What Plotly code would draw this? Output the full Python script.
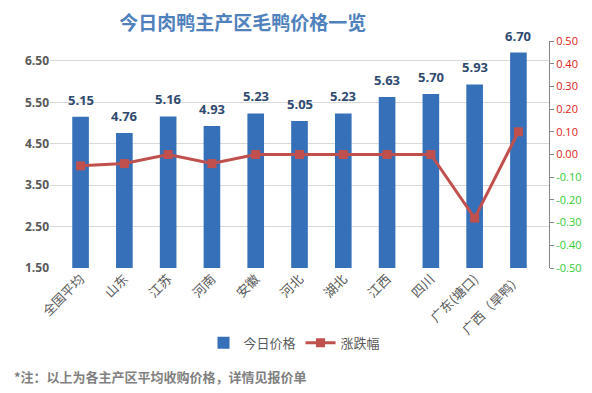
import plotly.graph_objects as go

categories = ["全国平均", "山东", "江苏", "河南", "安徽", "河北", "湖北", "江西", "四川", "广东(塘口)", "广西（旱鸭）"]
prices = [5.15, 4.76, 5.16, 4.93, 5.23, 5.05, 5.23, 5.63, 5.70, 5.93, 6.70]
changes = [-0.05, -0.04, 0.00, -0.04, 0.00, 0.00, 0.00, 0.00, 0.00, -0.28, 0.10]
left_ticks = [1.5, 2.5, 3.5, 4.5, 5.5, 6.5]
right_ticks = [0.5, 0.4, 0.3, 0.2, 0.1, 0.0, -0.1, -0.2, -0.3, -0.4, -0.5]

right_text = []
for v in right_ticks:
    col = "#e02020" if v >= 0 else "#33cc33"
    right_text.append(f'<span style="color:{col}">{v:.2f}</span>')

fig = go.Figure()
fig.add_trace(go.Bar(
    x=categories, y=prices, name="今日价格", width=0.38,
    marker=dict(color="#3570b9", line=dict(width=0)),
    yaxis="y",
))
fig.add_trace(go.Scatter(
    x=categories, y=changes, name="涨跌幅", mode="lines+markers",
    line=dict(color="#c0504d", width=3),
    marker=dict(symbol="square", size=9, color="#c0504d"),
    yaxis="y2",
))

for c, p in zip(categories, prices):
    fig.add_annotation(x=c, y=p, xref="x", yref="y", text=f"<b>{p:.2f}</b>",
                       showarrow=False, yanchor="bottom", yshift=6,
                       font=dict(size=13, color="#2e4a6e", family="Open Sans, Arial"))

fig.update_layout(
    width=592, height=393,
    margin=dict(l=50, r=43, t=41, b=125, autoexpand=False),
    paper_bgcolor="white", plot_bgcolor="white",
    font=dict(family="Noto Sans CJK SC, Open Sans, sans-serif", color="#595959"),
    title=dict(text="<b>今日肉鸭主产区毛鸭价格一览</b>", x=0.41, xanchor="center",
               y=0.94, yanchor="middle",
               font=dict(size=19, color="#4f81bd", family="Noto Sans CJK SC")),
    xaxis=dict(tickangle=-45, tickfont=dict(size=13, color="#595959"),
               showline=False, ticks="", showgrid=False, automargin=False),
    yaxis=dict(range=[1.5, 6.98], tickvals=left_ticks, ticktext=[f"<b>{v:.2f}</b>" for v in left_ticks],
               tickfont=dict(size=12, color="#595959", family="Open Sans, Arial"),
               showgrid=True, gridcolor="#d9d9d9", gridwidth=1, zeroline=False, showline=False,
               automargin=False),
    yaxis2=dict(range=[-0.5, 0.5], overlaying="y", side="right",
                tickvals=right_ticks, ticktext=right_text,
                tickfont=dict(size=11, family="Open Sans, Arial"),
                showgrid=False, zeroline=False, showline=True, linecolor="#868686",
                ticks="outside", ticklen=4, tickcolor="#868686", automargin=False),
    legend=dict(orientation="h", x=0.49, xanchor="center", y=-0.33, yanchor="middle",
                font=dict(size=13, color="#595959"), itemwidth=30),
    bargap=0.6,
    showlegend=True,
)

fig.add_annotation(x=-0.076, y=-0.48, xref="paper", yref="paper", xanchor="left", yanchor="middle",
                   text="<b>*注：以上为各主产区平均收购价格，详情见报价单</b>",
                   showarrow=False, font=dict(size=13, color="#7f7f7f", family="Noto Sans CJK SC"))

fig.write_html("out.html", config={"displayModeBar": False},
               post_script="document.body.style.margin='0';document.body.style.overflow='hidden';")
